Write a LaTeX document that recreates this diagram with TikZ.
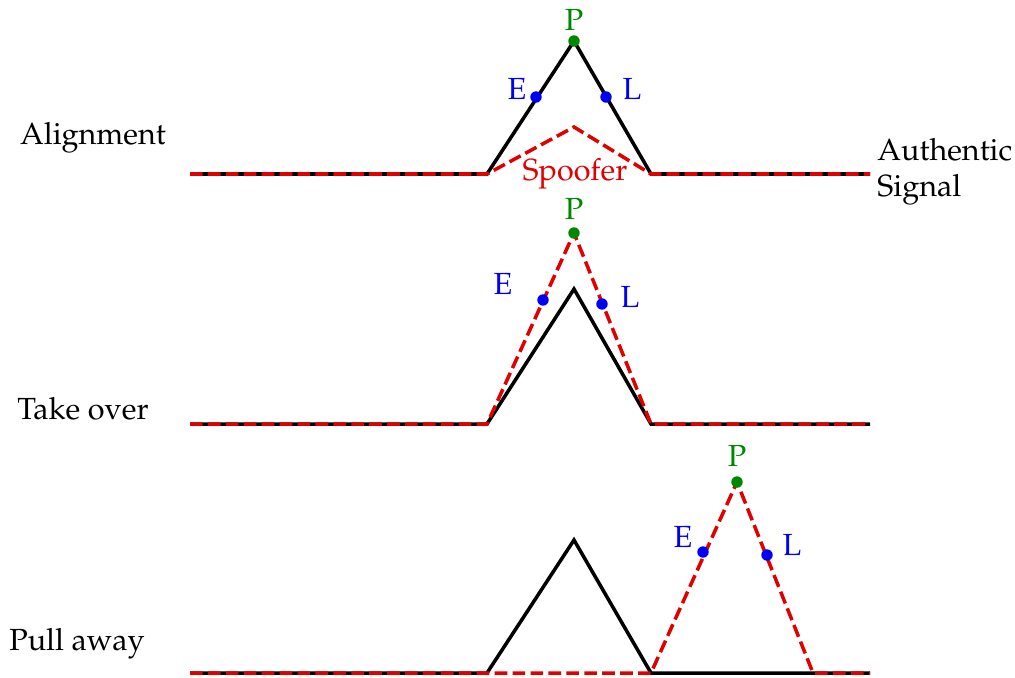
\documentclass[tikz,border=0pt]{standalone}
\usepackage[T1]{fontenc}
\usepackage{mathpazo}
\definecolor{spoof}{RGB}{225,0,0}
\definecolor{elblue}{RGB}{0,0,245}
\definecolor{pgreen}{RGB}{0,135,0}
\tikzset{
  auth/.style={line width=2pt, black, line join=miter},
  spf/.style={line width=2pt, spoof, dash pattern=on 7.2pt off 3pt},
  pdot/.style={circle, fill=pgreen, inner sep=0pt, minimum size=6.5pt},
  eldot/.style={circle, fill=elblue, inner sep=0pt, minimum size=6.5pt},
  lbl/.style={font=\fontsize{17.4}{20.5}\selectfont},
  ellbl/.style={lbl, text=elblue},
  plbl/.style={lbl, text=pgreen},
}
\begin{document}
\begin{tikzpicture}[x=0.02cm,y=-0.02cm]
\useasboundingbox (0,0) rectangle (1015,677);
% ---------- Row 1: Alignment ----------
\coordinate (a1) at (190,174);
\coordinate (a2) at (487,174);
\coordinate (a3) at (574,41);
\coordinate (a4) at (651,174);
\coordinate (a5) at (870,174);
\coordinate (s3) at (574,127);
\draw[auth] (a1) -- (a2) -- (a3) -- (a4) -- (a5);
\draw[spf] (a1) -- (a2) -- (s3) -- (a4) -- (a5);
\node[pdot] (p1) at (a3) {};
\node[eldot] (e1) at (536,97) {};
\node[eldot] (l1) at (606,97) {};
\node[plbl] (p1t) at (574,20) {P};
\node[ellbl] (e1t) at (517,89) {E};
\node[ellbl] (l1t) at (632,89) {L};
\node[lbl, text=spoof] (spt) at (575,174) {Spoofer};
\node[lbl, anchor=west, align=left, inner sep=0pt] (auth) at (877,172) {Authentic\\Signal};
\node[lbl] (r1) at (93,138) {Alignment};
% ---------- Row 2: Take over ----------
\coordinate (b1) at (190,424);
\coordinate (b2) at (487,424);
\coordinate (b3) at (574,289);
\coordinate (b4) at (651,424);
\coordinate (b5) at (870,424);
\coordinate (t3) at (574,233);
\draw[auth] (b1) -- (b2) -- (b3) -- (b4) -- (b5);
\draw[spf] (b1) -- (b2) -- (t3) -- (b4) -- (b5);
\node[pdot] (p2) at (t3) {};
\node[eldot] (e2) at (543,300) {};
\node[eldot] (l2) at (602,304) {};
\node[plbl] (p2t) at (574,209) {P};
\node[ellbl] (e2t) at (503,284) {E};
\node[ellbl] (l2t) at (630,297) {L};
\node[lbl] (r2) at (83,409) {Take over};
% ---------- Row 3: Pull away ----------
\coordinate (c1) at (190,673);
\coordinate (c2) at (487,673);
\coordinate (c3) at (574,540);
\coordinate (c4) at (651,673);
\coordinate (c5) at (870,673);
\coordinate (u3) at (737,482);
\coordinate (u4) at (813,673);
\draw[auth] (c1) -- (c2) -- (c3) -- (c4) -- (c5);
\draw[spf] (c1) -- (c4) -- (u3) -- (u4) -- (c5);
\node[pdot] (p3) at (u3) {};
\node[eldot] (e3) at (703,552) {};
\node[eldot] (l3) at (767,555) {};
\node[plbl] (p3t) at (737,456) {P};
\node[ellbl] (e3t) at (683,537) {E};
\node[ellbl] (l3t) at (792,545) {L};
\node[lbl] (r3) at (77,644) {Pull away};
\end{tikzpicture}
\end{document}
